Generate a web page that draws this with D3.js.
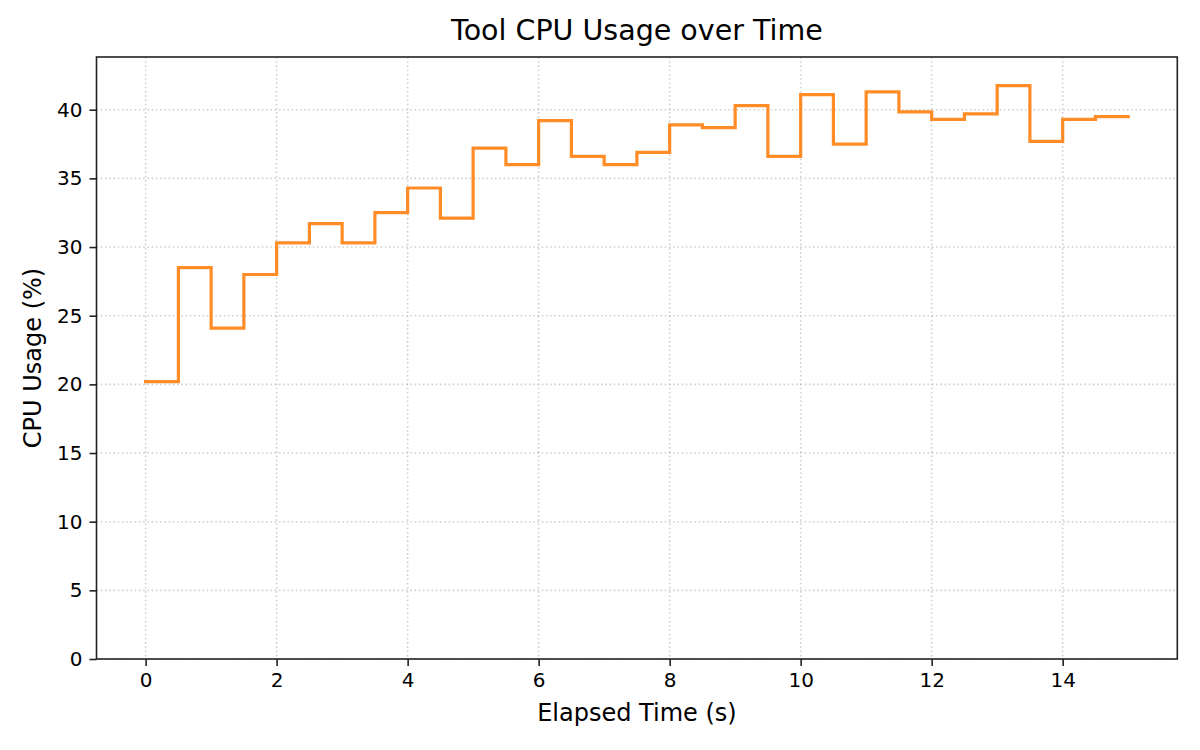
<!DOCTYPE html>
<html>
<head>
<meta charset="utf-8">
<script src="https://cdn.jsdelivr.net/npm/d3@7/dist/d3.min.js"></script>
<style>
  html, body { margin: 0; padding: 0; background: #ffffff; }
  svg { display: block; font-family: "DejaVu Sans", sans-serif; }
</style>
</head>
<body>
<svg id="chart" width="1200" height="750"></svg>
<script>
// ---- data ----
const times = [0, 0.5, 1, 1.5, 2, 2.5, 3, 3.5, 4, 4.5, 5, 5.5, 6, 6.5, 7, 7.5,
               8, 8.5, 9, 9.5, 10, 10.5, 11, 11.5, 12, 12.5, 13, 13.5, 14, 14.5, 15];
const cpuUsage = [20.2, 28.5, 24.1, 28.0, 30.3, 31.7, 30.3, 32.5, 34.3, 32.1,
                  37.2, 36.0, 39.2, 36.6, 36.0, 36.9, 38.9, 38.7, 40.3, 36.6,
                  41.1, 37.5, 41.3, 39.85, 39.3, 39.7, 41.75, 37.7, 39.3, 39.5, 39.5];
const xTicks = [0, 2, 4, 6, 8, 10, 12, 14];
const yTicks = [0, 5, 10, 15, 20, 25, 30, 35, 40];
const titleText = "Tool CPU Usage over Time";
const xLabelText = "Elapsed Time (s)";
const yLabelText = "CPU Usage (%)";

// ---- layout ----
const plot = { left: 96.5, right: 1177.3, top: 57, bottom: 659 };
const svg = d3.select("#chart");

const x = d3.scaleLinear().domain([-0.75, 15.75]).range([plot.left, plot.right]);
const y = d3.scaleLinear().domain([0, 43.84]).range([plot.bottom, plot.top]);

// grid
const grid = svg.append("g");
grid.selectAll("line.vg").data(xTicks).enter().append("line")
  .attr("x1", d => x(d)).attr("x2", d => x(d))
  .attr("y1", plot.top).attr("y2", plot.bottom)
  .attr("stroke", "#b0b0b0").attr("stroke-opacity", 0.6)
  .attr("stroke-width", 1.6).attr("stroke-dasharray", "1.6,2.64");
grid.selectAll("line.hg").data(yTicks).enter().append("line")
  .attr("y1", d => y(d)).attr("y2", d => y(d))
  .attr("x1", plot.left).attr("x2", plot.right)
  .attr("stroke", "#b0b0b0").attr("stroke-opacity", 0.6)
  .attr("stroke-width", 1.6).attr("stroke-dasharray", "1.6,2.64");

// step line
const pts = times.map((t, i) => [t, cpuUsage[i]]);
const line = d3.line().x(d => x(d[0])).y(d => y(d[1])).curve(d3.curveStepAfter);
const clipId = "plotclip";
svg.append("clipPath").attr("id", clipId).append("rect")
  .attr("x", plot.left).attr("y", plot.top)
  .attr("width", plot.right - plot.left).attr("height", plot.bottom - plot.top);
svg.append("path").datum(pts)
  .attr("d", line)
  .attr("fill", "none")
  .attr("stroke", "#ff7f0e").attr("stroke-opacity", 0.9)
  .attr("stroke-width", 3.2)
  .attr("stroke-linecap", "square")
  .attr("stroke-linejoin", "miter")
  .attr("clip-path", `url(#${clipId})`);

// axes
const xAxis = d3.axisBottom(x).tickValues(xTicks).tickFormat(d3.format("d"))
  .tickSize(7).tickPadding(7).tickSizeOuter(0);
const yAxis = d3.axisLeft(y).tickValues(yTicks).tickFormat(d3.format("d"))
  .tickSize(7).tickPadding(7).tickSizeOuter(0);

const gx = svg.append("g").attr("transform", `translate(0,${plot.bottom})`).call(xAxis);
const gy = svg.append("g").attr("transform", `translate(${plot.left},0)`).call(yAxis);
[gx, gy].forEach(g => {
  g.select(".domain").remove();
  g.selectAll(".tick line").attr("stroke", "#222").attr("stroke-width", 1.6);
  g.selectAll(".tick text").attr("fill", "#000").attr("font-size", 20)
    .attr("font-family", "DejaVu Sans, sans-serif");
});

// spines
svg.append("rect")
  .attr("x", plot.left).attr("y", plot.top)
  .attr("width", plot.right - plot.left).attr("height", plot.bottom - plot.top)
  .attr("fill", "none").attr("stroke", "#222").attr("stroke-width", 1.6);

// title & labels
svg.append("text")
  .attr("x", (plot.left + plot.right) / 2).attr("y", 40)
  .attr("text-anchor", "middle").attr("font-size", 28.5).attr("fill", "#000")
  .text(titleText);
svg.append("text")
  .attr("x", (plot.left + plot.right) / 2).attr("y", 721)
  .attr("text-anchor", "middle").attr("font-size", 24).attr("fill", "#000")
  .text(xLabelText);
svg.append("text")
  .attr("transform", `translate(40.8,${(plot.top + plot.bottom) / 2}) rotate(-90)`)
  .attr("text-anchor", "middle").attr("font-size", 24).attr("fill", "#000")
  .text(yLabelText);
</script>
</body>
</html>
